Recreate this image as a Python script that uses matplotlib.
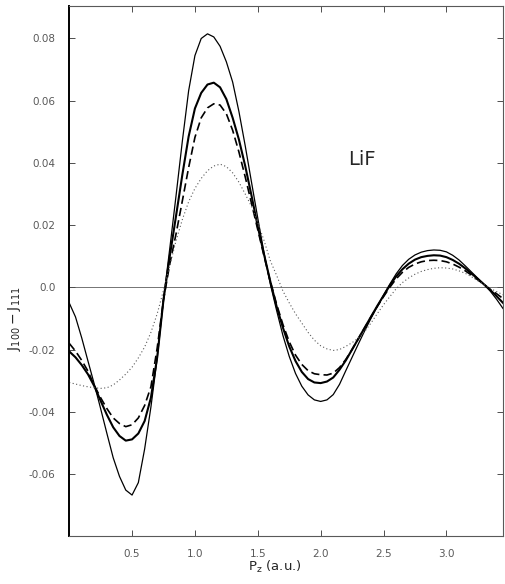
import matplotlib
matplotlib.use('Agg')
import matplotlib.pyplot as plt

# momentum grid (a.u.)
pz = [0.00, 0.05, 0.10, 0.15, 0.20, 0.25, 0.30, 0.35, 0.40, 0.45,
      0.50, 0.55, 0.60, 0.65, 0.70, 0.75, 0.80, 0.85, 0.90, 0.95,
      1.00, 1.05, 1.10, 1.15, 1.20, 1.25, 1.30, 1.35, 1.40, 1.45,
      1.50, 1.55, 1.60, 1.65, 1.70, 1.75, 1.80, 1.85, 1.90, 1.95,
      2.00, 2.05, 2.10, 2.15, 2.20, 2.25, 2.30, 2.35, 2.40, 2.45,
      2.50, 2.55, 2.60, 2.65, 2.70, 2.75, 2.80, 2.85, 2.90, 2.95,
      3.00, 3.05, 3.10, 3.15, 3.20, 3.25, 3.30, 3.35, 3.40, 3.45]

# thin solid curve (largest anisotropy)
thin_solid = [-0.0050, -0.0095, -0.0163, -0.0238, -0.0312, -0.0390, -0.0470, -0.0548, -0.0608, -0.0652,
              -0.0668, -0.0628, -0.0520, -0.0385, -0.0228, -0.0040, 0.0125, 0.0295, 0.0470, 0.0632,
              0.0745, 0.0800, 0.0815, 0.0805, 0.0775, 0.0725, 0.0660, 0.0565, 0.0455, 0.0338,
              0.0222, 0.0110, 0.0010, -0.0075, -0.0155, -0.0222, -0.0277, -0.0318, -0.0346, -0.0362,
              -0.0367, -0.0362, -0.0345, -0.0312, -0.0268, -0.0225, -0.0182, -0.0140, -0.0100, -0.0062,
              -0.0025, 0.0010, 0.0043, 0.0070, 0.0090, 0.0104, 0.0113, 0.0118, 0.0120, 0.0119,
              0.0114, 0.0103, 0.0088, 0.0069, 0.0049, 0.0029, 0.0009, -0.0013, -0.0039, -0.0068]

# thick solid curve
thick_solid = [-0.0206, -0.0225, -0.0250, -0.0280, -0.0318, -0.0365, -0.0410, -0.0450, -0.0478, -0.0493,
               -0.0489, -0.0470, -0.0430, -0.0355, -0.0225, -0.0040, 0.0100, 0.0230, 0.0362, 0.0485,
               0.0575, 0.0625, 0.0652, 0.0658, 0.0643, 0.0605, 0.0545, 0.0475, 0.0390, 0.0295,
               0.0195, 0.0105, 0.0018, -0.0062, -0.0130, -0.0190, -0.0237, -0.0272, -0.0295, -0.0306,
               -0.0308, -0.0303, -0.0290, -0.0265, -0.0235, -0.0200, -0.0165, -0.0130, -0.0095, -0.0060,
               -0.0027, 0.0006, 0.0035, 0.0058, 0.0076, 0.0089, 0.0097, 0.0101, 0.0103, 0.0102,
               0.0097, 0.0088, 0.0076, 0.0061, 0.0044, 0.0027, 0.0009, -0.0009, -0.0029, -0.0050]

# dashed curve
dashed = [-0.0180, -0.0205, -0.0235, -0.0270, -0.0316, -0.0355, -0.0390, -0.0420, -0.0438, -0.0448,
          -0.0442, -0.0420, -0.0380, -0.0320, -0.0195, -0.0040, 0.0075, 0.0172, 0.0278, 0.0385,
          0.0482, 0.0545, 0.0577, 0.0590, 0.0586, 0.0558, 0.0505, 0.0435, 0.0355, 0.0270,
          0.0185, 0.0100, 0.0018, -0.0055, -0.0120, -0.0175, -0.0218, -0.0248, -0.0268, -0.0278,
          -0.0281, -0.0282, -0.0276, -0.0258, -0.0232, -0.0200, -0.0165, -0.0130, -0.0095, -0.0062,
          -0.0030, 0.0000, 0.0027, 0.0048, 0.0064, 0.0075, 0.0082, 0.0086, 0.0087, 0.0086,
          0.0082, 0.0075, 0.0065, 0.0053, 0.0039, 0.0024, 0.0009, -0.0007, -0.0021, -0.0036]

# dotted curve (smallest anisotropy)
dotted = [-0.0306, -0.0311, -0.0316, -0.0320, -0.0323, -0.0325, -0.0323, -0.0314, -0.0298, -0.0279,
          -0.0257, -0.0227, -0.0192, -0.0145, -0.0085, -0.0010, 0.0070, 0.0150, 0.0218, 0.0275,
          0.0318, 0.0350, 0.0375, 0.0390, 0.0396, 0.0388, 0.0368, 0.0338, 0.0300, 0.0260,
          0.0208, 0.0150, 0.0085, 0.0038, -0.0012, -0.0050, -0.0085, -0.0115, -0.0145, -0.0170,
          -0.0188, -0.0198, -0.0203, -0.0200, -0.0190, -0.0178, -0.0163, -0.0142, -0.0115, -0.0085,
          -0.0056, -0.0030, -0.0005, 0.0015, 0.0030, 0.0042, 0.0051, 0.0057, 0.0061, 0.0063,
          0.0062, 0.0059, 0.0053, 0.0045, 0.0034, 0.0021, 0.0008, -0.0004, -0.0014, -0.0024]

xticks = [0.5, 1.0, 1.5, 2.0, 2.5, 3.0]
xticklabels = ['0.5', '1.0', '1.5', '2.0', '2.5', '3.0']
yticks = [-0.06, -0.04, -0.02, 0.0, 0.02, 0.04, 0.06, 0.08]
yticklabels = ['-0.06', '-0.04', '-0.02', '0.0', '0.02', '0.04', '0.06', '0.08']

fig = plt.figure(figsize=(5.05, 5.84), dpi=100)
ax = fig.add_axes([0.137, 0.082, 0.859, 0.908])

ax.axhline(0.0, color='0.45', lw=0.7, zorder=1)

ax.plot(pz, thin_solid, color='black', lw=0.9)
ax.plot(pz, thick_solid, color='black', lw=1.5)
ax.plot(pz, dashed, color='black', lw=1.2, dashes=(5, 2.5))
ax.plot(pz, dotted, color='0.35', lw=0.8, dashes=(1, 2.2))

ax.set_xlim(0, 3.45)
ax.set_ylim(-0.08, 0.0905)
ax.set_xticks(xticks)
ax.set_xticklabels(xticklabels)
ax.set_yticks(yticks)
ax.set_yticklabels(yticklabels)
ax.tick_params(direction='in', length=4, width=0.7, color='0.3',
               top=True, right=True, labelsize=7.5, labelcolor='0.35')
ax.tick_params(axis='y', pad=10)
ax.tick_params(axis='x', pad=9)

ax.spines['left'].set_linewidth(1.4)
for s in ['top', 'bottom', 'right']:
    ax.spines[s].set_linewidth(0.8)
    ax.spines[s].set_color('0.35')

ax.text(2.33, 0.041, 'LiF', fontsize=14, color='0.15', ha='center', va='center')

ax.text(-0.125, 0.41, r'$\mathregular{J_{100} - J_{111}}$', transform=ax.transAxes,
        rotation=90, fontsize=10, color='0.15', ha='center', va='center')
ax.text(0.474, -0.058, r'$\mathregular{P_z}$ (a.u.)', transform=ax.transAxes,
        fontsize=9.5, color='0.15', ha='center', va='center')

fig.savefig('out.png', dpi=100)
